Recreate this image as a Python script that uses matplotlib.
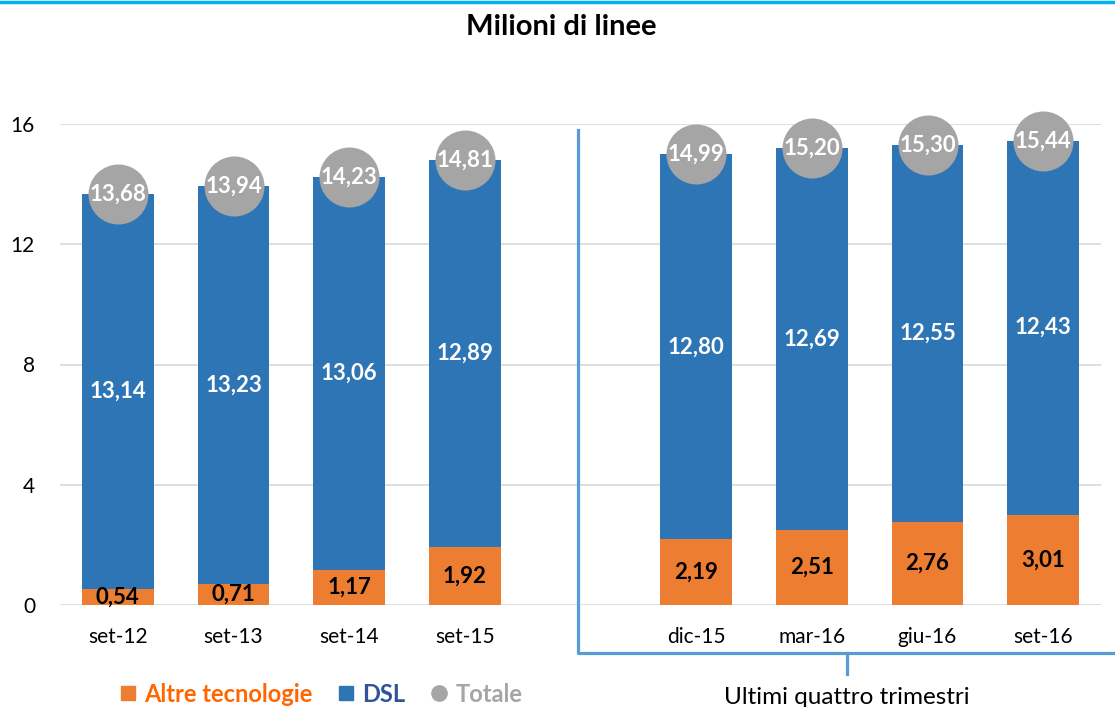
import numpy as np
import matplotlib
matplotlib.use("Agg")
import matplotlib.pyplot as plt
from matplotlib.lines import Line2D

plt.rcParams['font.family'] = ['Lato', 'DejaVu Sans']

# dati (la categoria vuota fa da separatore)
categorie = ["set-12", "set-13", "set-14", "set-15", "", "dic-15", "mar-16", "giu-16", "set-16"]
altre = [0.54, 0.71, 1.17, 1.92, np.nan, 2.19, 2.51, 2.76, 3.01]
dsl = [13.14, 13.23, 13.06, 12.89, np.nan, 12.80, 12.69, 12.55, 12.43]
totale = [13.68, 13.94, 14.23, 14.81, np.nan, 14.99, 15.20, 15.30, 15.44]
yticks = [0, 4, 8, 12, 16]

c_altre = "#ED7D31"
c_dsl = "#2E75B6"
c_tot = "#A5A5A5"
c_brk = "#5B9BD5"

W, H = 1115, 707
fig = plt.figure(figsize=(W / 100, H / 100), dpi=100)
ax = fig.add_axes([60 / W, 102 / H, 1041 / W, 481 / H])

x = np.arange(len(categorie))
altre = np.array(altre)
dsl = np.array(dsl)
totale = np.array(totale)
ok = ~np.isnan(totale)

ax.bar(x[ok], altre[ok], width=0.62, color=c_altre, zorder=2)
ax.bar(x[ok], dsl[ok], bottom=altre[ok], width=0.62, color=c_dsl, zorder=2)
ax.scatter(x[ok], totale[ok], s=1866, color=c_tot, zorder=4, clip_on=False, linewidths=0)

def fmt(v):
    return f"{v:.2f}".replace(".", ",")

for xi, a, d, t in zip(x[ok], altre[ok], dsl[ok], totale[ok]):
    ax.text(xi, a / 2, fmt(a), ha="center", va="center", fontsize=16,
            fontweight="bold", color="black", zorder=5)
    ax.text(xi, a + d / 2, fmt(d), ha="center", va="center", fontsize=16,
            fontweight="bold", color="white", zorder=5)
    ax.text(xi, t, fmt(t), ha="center", va="center", fontsize=16,
            fontweight="bold", color="white", zorder=5, clip_on=False)

ax.set_xlim(-0.5, len(categorie) - 0.5)
ax.set_ylim(0, 16)
ax.set_yticks(yticks)
ax.set_xticks(x[ok])
ax.set_xticklabels([c for c, k in zip(categorie, ok) if k])
ax.tick_params(axis="both", length=0, labelsize=15)
ax.tick_params(axis="x", pad=16)
ax.tick_params(axis="y", pad=18)
ax.grid(axis="y", color="#D9D9D9", linewidth=1.2, zorder=0)
for s in ax.spines.values():
    s.set_visible(False)

fig.text(561 / W, 1 - 27 / H, "Milioni di linee", ha="center", va="center",
         fontsize=21, fontweight="bold")

# riga azzurra in alto
fig.add_artist(Line2D([0, 1], [1 - 1.5 / H, 1 - 1.5 / H], color="#00B0F0", linewidth=2.5))

# parentesi "Ultimi quattro trimestri"
def fy(py):
    return 1 - py / H

fig.add_artist(Line2D([578 / W, 578 / W, 1], [fy(130), fy(653), fy(653)],
                      color=c_brk, linewidth=2.3))
fig.add_artist(Line2D([847 / W, 847 / W], [fy(653), fy(674)], color=c_brk, linewidth=2.3))
fig.text(847 / W, fy(698), "Ultimi quattro trimestri", ha="center", va="center", fontsize=17.5)

# legenda
handles = [
    Line2D([], [], marker="s", linestyle="", color=c_altre, markersize=10),
    Line2D([], [], marker="s", linestyle="", color=c_dsl, markersize=10),
    Line2D([], [], marker="o", linestyle="", color=c_tot, markersize=11),
]
leg = fig.legend(handles, ["Altre tecnologie", "DSL", "Totale"], loc="center left",
                 bbox_to_anchor=(121 / W, fy(694)), ncol=3, frameon=False,
                 borderpad=0, borderaxespad=0,
                 handletextpad=0.4, columnspacing=1.1, handlelength=0.6,
                 prop={"size": 17, "weight": "bold"},
                 labelcolor=["#FF6600", "#2F5597", "#A5A5A5"])

fig.savefig("out.png", dpi=100)
